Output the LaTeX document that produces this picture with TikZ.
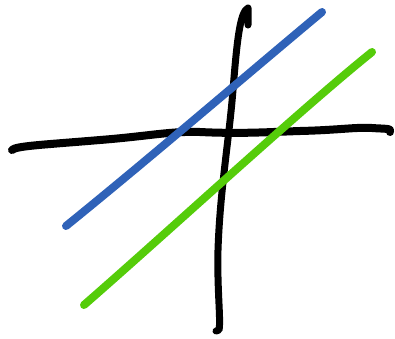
\documentclass[tikz,border=0pt]{standalone}
\begin{document}
\begin{tikzpicture}[x=1pt,y=-1pt,
  stroke/.style={line width=8pt,line cap=round,line join=round}]
\definecolor{penblue}{HTML}{2F62B8}
\definecolor{pengreen}{HTML}{55CC0A}
\useasboundingbox (0,0) rectangle (395,338);
\coordinate (hl) at (12,150);
\coordinate (hr) at (390,132);
\coordinate (vt) at (248,25);
\coordinate (vb) at (216,331);
\coordinate (bl) at (66,226);
\coordinate (br) at (322,12);
\coordinate (gl) at (84,305);
\coordinate (gr) at (372,52);
\draw[stroke,black] (hl) .. controls (16,146) and (40,145) .. (100,140)
  .. controls (150,136) and (170,131) .. (200,132)
  .. controls (240,134) and (270,132) .. (300,131)
  .. controls (340,130) and (355,127) .. (372,128)
  .. controls (385,129) and (392,128) .. (hr);
\draw[stroke,black,line width=7pt] (vt) -- (248,8) .. controls (240,12) and (237,40) .. (233,90)
  .. controls (229,140) and (220,190) .. (218,250)
  .. controls (217,290) and (221,320) .. (219,330) -- (vb);
\draw[stroke,penblue] (bl) .. controls (150,158) and (250,72) .. (br);
\draw[stroke,pengreen] (gl) .. controls (170,230) and (300,110) .. (gr);
\end{tikzpicture}
\end{document}
